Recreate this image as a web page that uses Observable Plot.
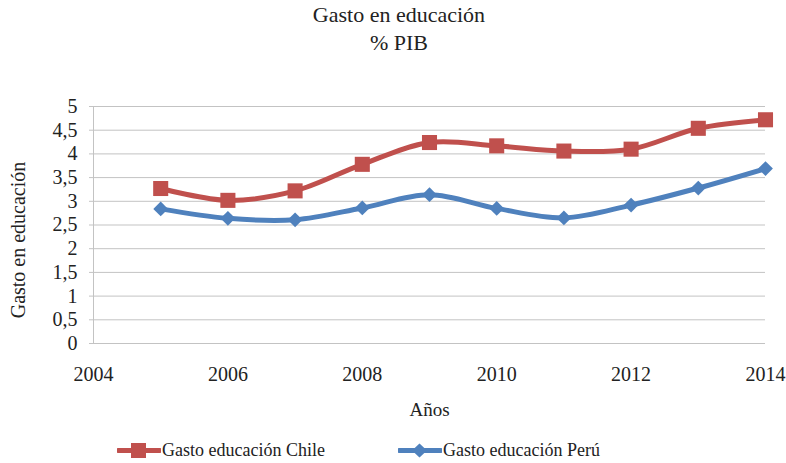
<!DOCTYPE html>
<html>
<head>
<meta charset="utf-8">
<script src="https://cdn.jsdelivr.net/npm/d3@7"></script>
<script src="https://cdn.jsdelivr.net/npm/@observablehq/plot@0.6"></script>
<style>
  body { margin: 0; background: #fff; }
  #wrap { position: relative; width: 786px; height: 463px; font-family: "Liberation Serif", "DejaVu Serif", serif; color: #222; }
  #title { position: absolute; left: 0; top: 1px; width: 798px; text-align: center; font-size: 22px; line-height: 28px; }
  #chart { position: absolute; left: 0; top: 60px; }
  #legend { position: absolute; top: 438px; left: 0; width: 786px; height: 25px; font-size: 18px; }
  .item { position: absolute; top: 0; display: flex; align-items: center; height: 25px; }
  .item svg { margin-right: 1px; }
</style>
</head>
<body>
<div id="wrap">
  <div id="title">Gasto en educación<br>% PIB</div>
  <div id="chart"></div>
  <div id="legend"></div>
</div>
<script>
const years = [2005, 2006, 2007, 2008, 2009, 2010, 2011, 2012, 2013, 2014];
const chile = [3.27, 3.02, 3.22, 3.78, 4.24, 4.17, 4.06, 4.10, 4.54, 4.72];
const peru  = [2.84, 2.64, 2.61, 2.86, 3.14, 2.85, 2.65, 2.92, 3.28, 3.69];
const seriesNames = ["Gasto educación Chile", "Gasto educación Perú"];
const seriesColors = ["#C0504D", "#4F81BD"];
const yTicks = [0, 0.5, 1, 1.5, 2, 2.5, 3, 3.5, 4, 4.5, 5];
const xTicks = [2004, 2006, 2008, 2010, 2012, 2014];
const yLabel = "Gasto en educación";
const xLabel = "Años";

const rows = [];
years.forEach((yr, i) => {
  rows.push({year: yr, value: chile[i], series: seriesNames[0]});
});
years.forEach((yr, i) => {
  rows.push({year: yr, value: peru[i], series: seriesNames[1]});
});

const diamond = {
  draw(context, size) {
    const h = Math.sqrt(size / 2);
    context.moveTo(0, -h);
    context.lineTo(h, 0);
    context.lineTo(0, h);
    context.lineTo(-h, 0);
    context.closePath();
  }
};

const fmt = d => String(d).replace(".", ",");
const gridColor = "#c3c3c3";
const ff = "'Liberation Serif', 'DejaVu Serif', serif";

const plot = Plot.plot({
  width: 786,
  height: 365,
  marginTop: 46,
  marginBottom: 82,
  marginLeft: 93,
  marginRight: 21,
  style: {fontFamily: ff, fontSize: "20px", color: "#222", background: "#fff"},
  x: {domain: [2004, 2014], label: null},
  y: {domain: [0, 5], label: null},
  color: {domain: seriesNames, range: seriesColors},
  marks: [
    Plot.gridY(yTicks, {stroke: gridColor, strokeOpacity: 1, strokeWidth: 1}),
    Plot.ruleX([2004], {stroke: gridColor, strokeWidth: 1}),
    Plot.axisY({ticks: yTicks, tickFormat: fmt, tickSize: 4, tickPadding: 12, stroke: gridColor, label: null, fontSize: 20}),
    Plot.axisX({ticks: xTicks, tickFormat: d => String(d), tickSize: 0, tickPadding: 23, label: null, fontSize: 20}),
    Plot.line(rows, {x: "year", y: "value", z: "series", stroke: "series", strokeWidth: 5, curve: "catmull-rom"}),
    Plot.dot(rows.filter(d => d.series === seriesNames[0]), {x: "year", y: "value", fill: "series", symbol: "square", r: 8.5, stroke: null}),
    Plot.dot(rows.filter(d => d.series === seriesNames[1]), {x: "year", y: "value", fill: "series", symbol: diamond, r: 5.9, stroke: null}),
    Plot.text([xLabel], {frameAnchor: "bottom", dy: 72, text: d => d, fontSize: 19, textAnchor: "middle"}),
    Plot.text([yLabel], {frameAnchor: "left", rotate: -90, dx: -75, dy: 15, text: d => d, fontSize: 20, textAnchor: "middle"})
  ]
});
document.getElementById("chart").appendChild(plot);

// Legend
const legend = document.getElementById("legend");
const legendPos = [117, 398];
const legendSym = ["square", "diamond"];
seriesNames.forEach((name, i) => {
  const item = document.createElement("div");
  item.className = "item";
  item.style.left = legendPos[i] + "px";
  const c = seriesColors[i];
  const sym = legendSym[i] === "square"
    ? `<rect x="14" y="5" width="15" height="15" fill="${c}"/>`
    : `<path d="M21.5,5.5 L29,12.5 L21.5,19.5 L14,12.5 Z" fill="${c}"/>`;
  item.innerHTML = `<svg width="44" height="25"><line x1="1" x2="43" y1="12.5" y2="12.5" stroke="${c}" stroke-width="5" stroke-linecap="round"/>${sym}</svg><span>${name}</span>`;
  legend.appendChild(item);
});
</script>
</body>
</html>
